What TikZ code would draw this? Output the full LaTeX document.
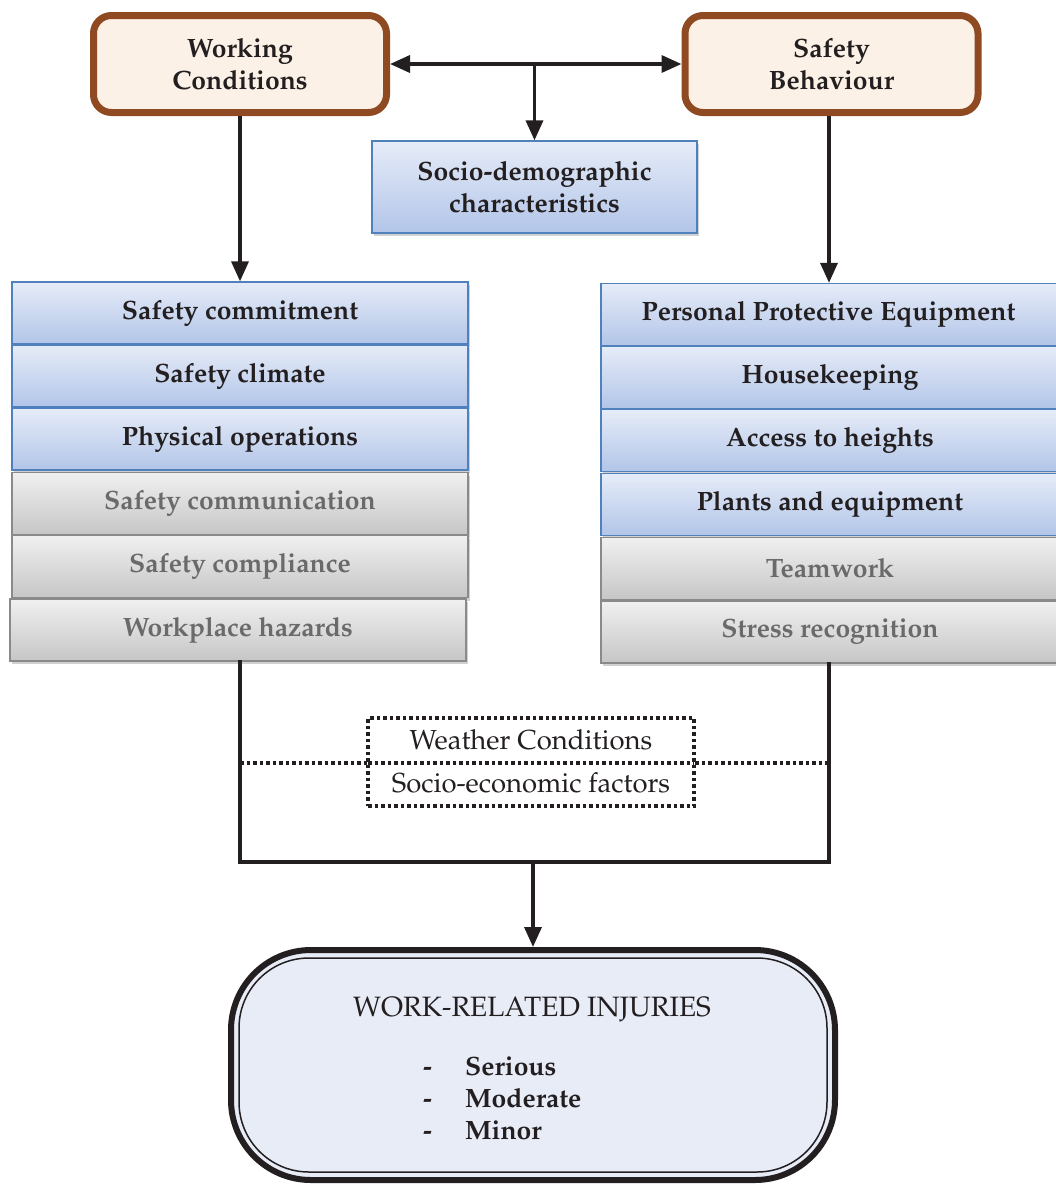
\documentclass[tikz,border=0pt]{standalone}
\usepackage[T1]{fontenc}
\usepackage{mathpazo}
\usetikzlibrary{arrows.meta,shadows,calc}
\definecolor{dark}{HTML}{231F20}
\definecolor{brownc}{HTML}{8F4A21}
\definecolor{cream}{HTML}{FBF1E6}
\definecolor{blueline}{HTML}{4F81BD}
\definecolor{bluetop}{HTML}{E6ECF8}
\definecolor{bluebot}{HTML}{B2C5E8}
\definecolor{greytop}{HTML}{F0F0F0}
\definecolor{greybot}{HTML}{C6C6C6}
\definecolor{greyline}{HTML}{8A8A8A}
\definecolor{greytext}{HTML}{6A6A6A}
\definecolor{wrifill}{HTML}{E8ECF7}
\begin{document}
\begin{tikzpicture}[x=1pt,y=-1pt,
  every node/.style={text=dark, inner sep=0pt},
  topbox/.style={draw=brownc, line width=7pt, fill=cream, rounded corners=18pt,
    minimum width=293pt, minimum height=97pt, align=center,
    font=\fontsize{26.5}{32}\selectfont\bfseries},
  bluebox/.style={draw=blueline, line width=1.3pt, top color=bluetop, bottom color=bluebot,
    minimum width=456pt, minimum height=62pt, font=\fontsize{26.5}{30}\selectfont\bfseries,
    drop shadow={opacity=0.3, shadow xshift=2pt, shadow yshift=-3pt, fill=black!60}},
  greybox/.style={draw=greyline, line width=1.3pt, top color=greytop, bottom color=greybot,
    minimum width=456pt, minimum height=62pt, text=greytext,
    font=\fontsize{26.5}{30}\selectfont\bfseries,
    drop shadow={opacity=0.3, shadow xshift=2pt, shadow yshift=-3pt, fill=black!60}},
  conn/.style={line width=3.5pt, draw=dark},
  arr/.style={conn, -{Triangle[length=20pt,width=17pt]}},
  dotline/.style={line width=3.5pt, draw=dark, dash pattern=on 3.5pt off 3pt},
]
\useasboundingbox (0,0) rectangle (1056,1187);

% top boxes
\node[topbox] (wc) at (240,64) {Working\\Conditions};
\node[topbox] (sb) at (831.5,64) {Safety\\Behaviour};
\node[bluebox, minimum width=325pt, minimum height=92pt, align=center,
  font=\fontsize{26.5}{32}\selectfont\bfseries] (socio) at (534.5,187) {Socio-demographic\\characteristics};

% left column
\node[bluebox] (sc1) at (240,313) {Safety commitment};
\node[bluebox] (sc2) at (240,376) {Safety climate};
\node[bluebox] (po) at (240,439) {Physical operations};
\node[greybox] (scom) at (240,503.5) {Safety communication};
\node[greybox] (scomp) at (240,566.5) {Safety compliance};
\node[greybox] (wh) at (238,630) {Workplace hazards};

% right column
\node[bluebox, minimum width=458pt] (ppe) at (830,314.5) {\hspace*{-3pt}Personal Protective Equipment};
\node[bluebox, minimum width=458pt] (hk) at (830,377.5) {Housekeeping};
\node[bluebox, minimum width=458pt] (ah) at (830,440.5) {Access to heights};
\node[bluebox, minimum width=458pt] (pe) at (830,504.5) {Plants and equipment};
\node[greybox, minimum width=458pt] (tw) at (830,568.5) {Teamwork};
\node[greybox, minimum width=458pt] (sr) at (830,632) {Stress recognition};

% connectors at top
\draw[conn, {Triangle[length=20pt,width=17pt]}-{Triangle[length=20pt,width=17pt]}] (wc.east) -- (sb.west);
\draw[arr] (socio.north |- wc.east) -- (socio.north);
\draw[arr] (wc.south) -- (sc1.north);
\draw[arr] (829,0 |- sb.south) -- (829,0 |- ppe.north);

% bottom joining lines
\coordinate (jl) at (240,862);
\coordinate (jr) at (829,862);
\draw[conn, line cap=rect] (240,0 |- wh.south) -- (jl) -- (jr) -- (829,0 |- sr.south);

% environmental factors
\draw[dotline] (240,763) -- (829,763);
\node[draw=dark, line width=3.5pt, dash pattern=on 3.5pt off 3pt, fill=white,
  minimum width=326pt, minimum height=88pt, align=center,
  font=\fontsize{27.5}{43}\selectfont] (env) at (531,762) {\strut Weather Conditions\\\strut Socio-economic factors};
\draw[dotline] (368,763) -- (694,763);

% outcome
\node[draw=dark, line width=6pt, fill=wrifill, rounded corners=80pt,
  minimum width=604pt, minimum height=230pt] (wri) at (533,1065) {};
\draw[dark, line width=1.5pt, rounded corners=70pt]
  ($(wri.north west)+(11,11)$) rectangle ($(wri.south east)+(-11,-11)$);
\draw[arr] (wri.north |- jl) -- (wri.north);

\node[font=\fontsize{28}{30}\selectfont, anchor=base] (wtitle) at (532,1016) {WORK-RELATED INJURIES};
\node[font=\fontsize{26.5}{30}\selectfont\bfseries, anchor=base west] (i1) at (423,1075) {\makebox[42pt][l]{-}Serious};
\node[font=\fontsize{26.5}{30}\selectfont\bfseries, anchor=base west] (i2) at (423,1107) {\makebox[42pt][l]{-}Moderate};
\node[font=\fontsize{26.5}{30}\selectfont\bfseries, anchor=base west] (i3) at (423,1139) {\makebox[42pt][l]{-}Minor};
\end{tikzpicture}
\end{document}
